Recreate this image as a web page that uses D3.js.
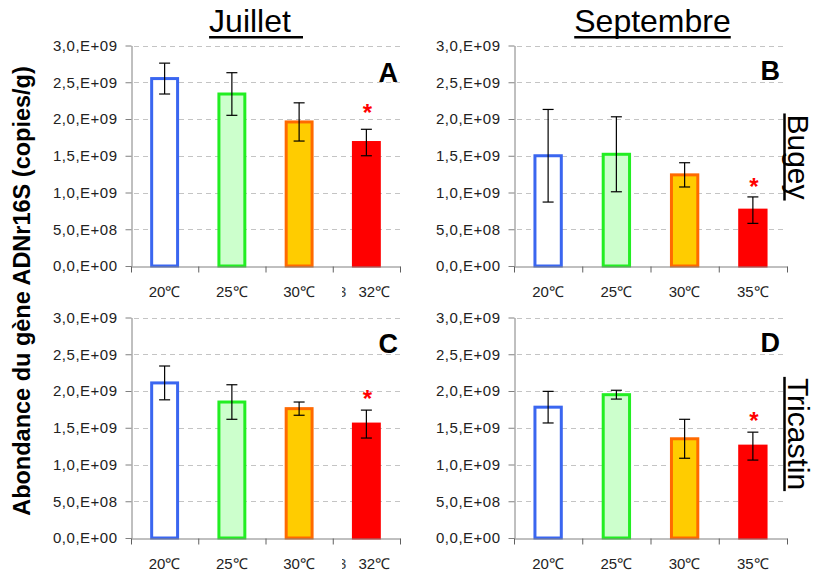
<!DOCTYPE html>
<html>
<head>
<meta charset="utf-8">
<script src="https://cdn.jsdelivr.net/npm/d3@7"></script>
<style>
  body { margin: 0; background: #fff; }
  svg { font-family: "Liberation Sans", Arial, sans-serif; }
</style>
</head>
<body>
<div id="chart-area"></div>
<script>
const width = 813, height = 571;

// categories and values
const temps = ["20℃", "25℃", "30℃", "35℃"];
const julyLabels = ["20℃", "25℃", "30℃", "32℃"];
const yTicks = [0, 0.5e9, 1.0e9, 1.5e9, 2.0e9, 2.5e9, 3.0e9];

const julyBugey = [2.55e9, 2.34e9, 1.96e9, 1.68e9];
const julyBugeyErr = [0.21e9, 0.29e9, 0.26e9, 0.18e9];
const septBugey = [1.50e9, 1.52e9, 1.24e9, 0.76e9];
const septBugeyErr = [0.63e9, 0.51e9, 0.165e9, 0.18e9];
const julyTricastin = [2.11e9, 1.85e9, 1.76e9, 1.55e9];
const julyTricastinErr = [0.23e9, 0.235e9, 0.09e9, 0.19e9];
const septTricastin = [1.78e9, 1.95e9, 1.35e9, 1.25e9];
const septTricastinErr = [0.215e9, 0.06e9, 0.265e9, 0.19e9];
const significant = [false, false, false, true];

const fills = ["#ffffff", "#ccffcc", "#ffcc00", "#ff0000"];
const strokes = ["#3a66f0", "#22ee22", "#ff6a00", "#ff0000"];

const panels = [
    {letter: "A", labels: julyLabels, values: julyBugey, err: julyBugeyErr, x0: 131, x1: 400, y0: 266, y1: 45.5, gridEnd: 400, letterX: 398, letterY: 82, starGap: 20, stray: true},
    {letter: "B", labels: temps, values: septBugey, err: septBugeyErr, x0: 514, x1: 787, y0: 266, y1: 45.5, gridEnd: 783, letterX: 780, letterY: 80, starGap: 14},
    {letter: "C", labels: julyLabels, values: julyTricastin, err: julyTricastinErr, x0: 131, x1: 400, y0: 538, y1: 317.5, gridEnd: 400, letterX: 398, letterY: 353, starGap: 15, stray: true},
    {letter: "D", labels: temps, values: septTricastin, err: septTricastinErr, x0: 514, x1: 787, y0: 538, y1: 317.5, gridEnd: 783, letterX: 780, letterY: 352, starGap: 15}
];

function sciFormat(v) {
    if (v === 0) return "0,0,E+00";
    const e = Math.floor(Math.log10(v) + 1e-9);
    const m = v / Math.pow(10, e);
    return m.toFixed(1).replace(".", ",") + ",E+" + String(e).padStart(2, "0");
}

const svg = d3.select("#chart-area").append("svg")
    .attr("width", width)
    .attr("height", height);

panels.forEach(p => {
    const x = d3.scaleBand()
        .domain(d3.range(4))
        .range([p.x0, p.x1])
        .paddingInner(0.57)
        .paddingOuter(0.285);

    const xBound = d3.scaleLinear().domain([0, 4]).range([p.x0, p.x1]);

    const y = d3.scaleLinear()
        .domain([0, 3e9])
        .range([p.y0, p.y1]);

    const g = svg.append("g");

    // dashed grid
    g.append("g")
        .selectAll("line")
        .data(yTicks.filter(d => d > 0))
        .enter().append("line")
            .attr("x1", p.x0 + 3)
            .attr("x2", p.gridEnd)
            .attr("y1", d => Math.round(y(d)) + 0.5)
            .attr("y2", d => Math.round(y(d)) + 0.5)
            .attr("stroke", "#c4c4c4")
            .attr("stroke-dasharray", "5,4");

    // bars
    g.append("g")
        .selectAll("rect")
        .data(p.values)
        .enter().append("rect")
            .attr("x", (d, i) => x(i) + 1.5)
            .attr("y", d => y(d))
            .attr("width", x.bandwidth() - 3)
            .attr("height", d => p.y0 - y(d))
            .attr("fill", (d, i) => fills[i])
            .attr("stroke", (d, i) => strokes[i])
            .attr("stroke-width", 3);

    // error bars
    const eb = g.append("g")
        .attr("stroke", "#000")
        .attr("stroke-width", 1.2)
        .selectAll("g")
        .data(p.values.map((v, i) => ({v: v, e: p.err[i], i: i})))
        .enter().append("g");

    eb.append("line")
        .attr("x1", d => x(d.i) + x.bandwidth() / 2)
        .attr("x2", d => x(d.i) + x.bandwidth() / 2)
        .attr("y1", d => y(d.v + d.e))
        .attr("y2", d => y(d.v - d.e));
    eb.append("line")
        .attr("x1", d => x(d.i) + x.bandwidth() / 2 - 5.5)
        .attr("x2", d => x(d.i) + x.bandwidth() / 2 + 5.5)
        .attr("y1", d => y(d.v + d.e))
        .attr("y2", d => y(d.v + d.e));
    eb.append("line")
        .attr("x1", d => x(d.i) + x.bandwidth() / 2 - 5.5)
        .attr("x2", d => x(d.i) + x.bandwidth() / 2 + 5.5)
        .attr("y1", d => y(d.v - d.e))
        .attr("y2", d => y(d.v - d.e));

    // significance stars
    g.append("g")
        .selectAll("text")
        .data(p.values.map((v, i) => ({v: v, e: p.err[i], i: i})).filter(d => significant[d.i]))
        .enter().append("text")
            .attr("x", d => x(d.i) + x.bandwidth() / 2 + 1)
            .attr("y", d => y(d.v + d.e) - p.starGap + 12)
            .attr("text-anchor", "middle")
            .attr("fill", "#ff0000")
            .attr("font-weight", "bold")
            .attr("font-size", 24)
            .text("*");

    // y axis
    const yAxis = g.append("g")
        .attr("transform", `translate(${p.x0 + 0.5},0)`)
        .call(d3.axisLeft(y).tickValues(yTicks).tickFormat(sciFormat).tickSize(6).tickSizeOuter(0).tickPadding(8));
    yAxis.select(".domain").attr("stroke", "#808080");
    yAxis.selectAll(".tick line").attr("stroke", "#808080");
    yAxis.selectAll(".tick text")
        .attr("font-family", "Liberation Sans, Arial, sans-serif")
        .attr("font-size", 15)
        .attr("letter-spacing", 0.5)
        .attr("fill", "#222");

    // x axis: category boundaries get the ticks, labels sit at band centres
    const xAxis = g.append("g")
        .attr("transform", `translate(0,${p.y0 + 0.5})`)
        .call(d3.axisBottom(xBound).tickValues(d3.range(5)).tickSize(6).tickFormat("").tickSizeOuter(0));
    xAxis.select(".domain").attr("stroke", "#808080");
    xAxis.selectAll(".tick line").attr("stroke", "#606060");

    g.append("g")
        .selectAll("text")
        .data(p.labels)
        .enter().append("text")
            .attr("x", (d, i) => x(i) + x.bandwidth() / 2 + (i === 3 && p.stray ? 8 : 0))
            .attr("y", p.y0 + 31)
            .attr("text-anchor", "middle")
            .attr("font-size", 15)
            .attr("fill", "#222")
            .text(d => d);

    if (p.stray) {
        // leftover fragment of an overwritten label
        const clipId = "clip" + p.letter;
        svg.append("clipPath").attr("id", clipId)
            .append("rect").attr("x", 342).attr("y", p.y0 + 15).attr("width", 6).attr("height", 20);
        g.append("text")
            .attr("x", 338)
            .attr("y", p.y0 + 31)
            .attr("font-size", 15)
            .attr("fill", "#444")
            .attr("clip-path", `url(#${clipId})`)
            .text("3");
    }

    // panel letter
    g.append("text")
        .attr("x", p.letterX)
        .attr("y", p.letterY)
        .attr("text-anchor", "end")
        .attr("font-weight", "bold")
        .attr("font-size", 27)
        .text(p.letter);
});

// column titles
const titles = [{t: "Juillet", cx: 250, uEnd: 303}, {t: "Septembre", cx: 652.5, uEnd: null}];
titles.forEach(t => {
    const txt = svg.append("text")
        .attr("x", t.cx)
        .attr("y", 32)
        .attr("text-anchor", "middle")
        .attr("font-size", 32)
        .text(t.t);
    const bb = txt.node().getBBox();
    svg.append("rect")
        .attr("x", bb.x)
        .attr("y", 36)
        .attr("width", (t.uEnd || bb.x + bb.width) - bb.x)
        .attr("height", 2.5)
        .attr("fill", "#000");
});

// row titles, rotated clockwise with the underline on the left
const rows = [{t: "Bugey", cy: 157}, {t: "Tricastin", cy: 434}];
rows.forEach(r => {
    const gr = svg.append("g").attr("transform", `translate(784.5,${r.cy}) rotate(90)`);
    const txt = gr.append("text")
        .attr("x", 0)
        .attr("y", -3)
        .attr("text-anchor", "middle")
        .attr("font-size", 30)
        .text(r.t);
    const bb = txt.node().getBBox();
    gr.append("rect")
        .attr("x", bb.x - 1)
        .attr("y", -1.25)
        .attr("width", bb.width + 2)
        .attr("height", 2.5)
        .attr("fill", "#000");
});

// shared y title
svg.append("text")
    .attr("transform", "translate(30,291) rotate(-90)")
    .attr("text-anchor", "middle")
    .attr("font-weight", "bold")
    .attr("font-size", 23.5)
    .text("Abondance du gène ADNr16S (copies/g)");
</script>
</body>
</html>
